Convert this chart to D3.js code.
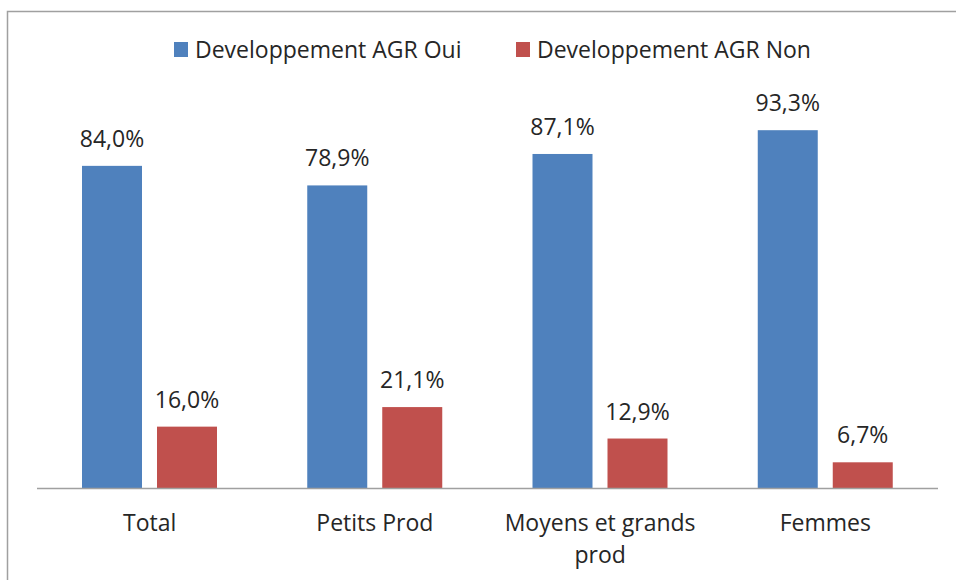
<!DOCTYPE html>
<html>
<head>
<meta charset="utf-8">
<script src="https://cdn.jsdelivr.net/npm/d3@7"></script>
<style>
  body { margin: 0; background: #fff; }
  text { font-family: "Open Sans", sans-serif; fill: #262626; }
</style>
</head>
<body>
<div id="container"></div>
<script>
// data
const categories = [["Total"], ["Petits Prod"], ["Moyens et grands", "prod"], ["Femmes"]];
const series = ["Developpement AGR Oui", "Developpement AGR Non"];
const valuesOui = [84.0, 78.9, 87.1, 93.3];
const valuesNon = [16.0, 21.1, 12.9, 6.7];
const colors = ["#4f81bd", "#c0504d"];

const W = 956, H = 580;
const svg = d3.select("div#container")
  .append("svg")
  .attr("width", W)
  .attr("height", H);

// chart border
svg.append("rect")
  .attr("x", 7.5).attr("y", 11.5)
  .attr("width", 960).attr("height", 600)
  .attr("fill", "none")
  .attr("stroke", "#a0a0a0")
  .attr("stroke-width", 1.5);

const x0 = d3.scaleBand()
  .domain(d3.range(categories.length))
  .range([37, 938]);

const x1 = d3.scaleBand()
  .domain([0, 1])
  .range([45, 45 + 135])
  .paddingInner(0.2);

const y = d3.scaleLinear().domain([0, 100]).range([488, 104.5]);

const fmt = v => v.toFixed(1).replace(".", ",") + "%";

const groups = svg.append("g").selectAll("g")
  .data(categories.map((c, i) => ({ i: i, vals: [valuesOui[i], valuesNon[i]] })))
  .enter().append("g")
  .attr("transform", d => "translate(" + x0(d.i) + ",0)");

groups.selectAll("rect")
  .data(d => d.vals)
  .enter().append("rect")
  .attr("x", (d, j) => x1(j))
  .attr("y", d => y(d))
  .attr("width", x1.bandwidth())
  .attr("height", d => y(0) - y(d))
  .attr("fill", (d, j) => colors[j]);

groups.selectAll("text.val")
  .data(d => d.vals)
  .enter().append("text")
  .attr("class", "val")
  .attr("x", (d, j) => x1(j) + x1.bandwidth() / 2)
  .attr("y", d => y(d) - 19)
  .attr("text-anchor", "middle")
  .attr("font-size", 23)
  .text(fmt);

// x axis line
svg.append("line")
  .attr("x1", 37).attr("x2", 938)
  .attr("y1", y(0) + 0.5).attr("y2", y(0) + 0.5)
  .attr("stroke", "#a0a0a0")
  .attr("stroke-width", 1.5);

// category labels
const cl = svg.append("g").selectAll("text")
  .data(categories)
  .enter().append("text")
  .attr("x", (d, i) => x0(i) + x0.bandwidth() / 2)
  .attr("y", 531)
  .attr("text-anchor", "middle")
  .attr("font-size", 23);
cl.selectAll("tspan")
  .data(d => d)
  .enter().append("tspan")
  .attr("x", function() { return this.parentNode.getAttribute("x"); })
  .attr("dy", (d, k) => k === 0 ? 0 : 32)
  .text(d => d);

// legend
const legendX = [174, 516];
const lg = svg.append("g").selectAll("g")
  .data(series)
  .enter().append("g")
  .attr("transform", (d, i) => "translate(" + legendX[i] + ",42)");
lg.append("rect")
  .attr("width", 14).attr("height", 15)
  .attr("fill", (d, i) => colors[i]);
lg.append("text")
  .attr("x", 21).attr("y", 16)
  .attr("font-size", 23)
  .text(d => d);
</script>
</body>
</html>
